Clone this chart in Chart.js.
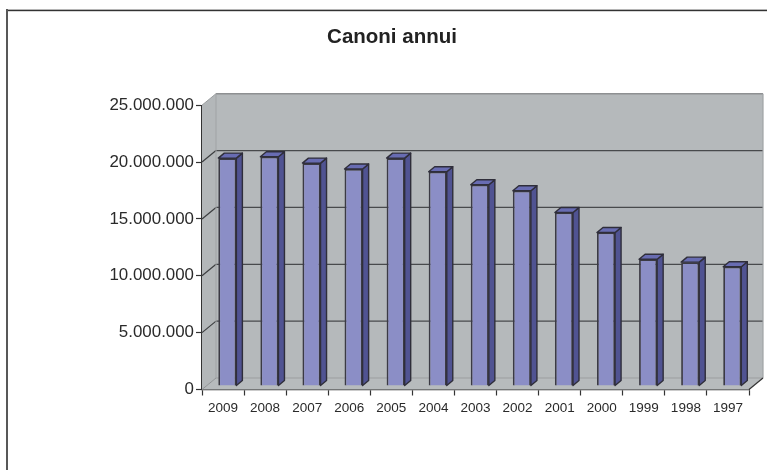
<!DOCTYPE html>
<html>
<head>
<meta charset="utf-8">
<title>Canoni annui</title>
<script src="https://cdn.jsdelivr.net/npm/chart.js@4.4.2/dist/chart.umd.js"></script>
<style>
  html, body { margin: 0; padding: 0; background: #fff; overflow: hidden; }
  canvas { display: block; }
</style>
</head>
<body>
<canvas id="chart" width="767" height="470"></canvas>
<script>
const years = ['2009', '2008', '2007', '2006', '2005', '2004', '2003', '2002', '2001', '2000', '1999', '1998', '1997'];
const canoni = [20040000, 20160000, 19600000, 19080000, 20040000, 18840000, 17700000, 17170000, 15260000, 13500000, 11150000, 10890000, 10480000];

const FONT = '"Liberation Sans", Arial, sans-serif';
const WALL_DX = 14;
const WALL_DY = -11.5;
const BAR_DX = 4.3;
const BAR_DY = -3.5;
const FACE_DX = 6;
const FACE_DY = -5;

function poly(ctx, points, fill, stroke, lineWidth) {
  ctx.beginPath();
  points.forEach((p, i) => i ? ctx.lineTo(p[0], p[1]) : ctx.moveTo(p[0], p[1]));
  ctx.closePath();
  if (fill) {
    ctx.fillStyle = fill;
    ctx.fill();
  }
  if (stroke) {
    ctx.strokeStyle = stroke;
    ctx.lineWidth = lineWidth;
    ctx.stroke();
  }
}

function line(ctx, x1, y1, x2, y2, color, width) {
  ctx.beginPath();
  ctx.moveTo(x1, y1);
  ctx.lineTo(x2, y2);
  ctx.strokeStyle = color;
  ctx.lineWidth = width;
  ctx.stroke();
}

// outer frame, only the top and left edges show in the picture
const framePlugin = {
  id: 'frame',
  beforeDraw(chart) {
    const ctx = chart.ctx;
    ctx.save();
    ctx.fillStyle = '#fff';
    ctx.fillRect(0, 0, chart.width, chart.height);
    ctx.fillStyle = '#b5b5b5';
    ctx.fillRect(6, 9, chart.width - 6, 1);
    ctx.fillStyle = '#333';
    ctx.fillRect(6, 10, chart.width - 6, 1.2);
    ctx.fillStyle = '#585858';
    ctx.fillRect(6, 9, 2, chart.height - 9);
    ctx.restore();
  }
};

// walls and floor of the 3d box, grid lines follow the y scale
const boxPlugin = {
  id: 'box',
  beforeDatasetsDraw(chart) {
    const ctx = chart.ctx;
    const { left, right, top, bottom } = chart.chartArea;
    const y = chart.scales.y;
    ctx.save();
    poly(ctx, [[left, top], [left + WALL_DX, top + WALL_DY], [left + WALL_DX, bottom + WALL_DY], [left, bottom]], '#b3b7b9');
    poly(ctx, [[left + WALL_DX, top + WALL_DY], [right + WALL_DX, top + WALL_DY], [right + WALL_DX, bottom + WALL_DY], [left + WALL_DX, bottom + WALL_DY]], '#b5b9bb');
    poly(ctx, [[left, bottom], [left + WALL_DX, bottom + WALL_DY], [right + WALL_DX, bottom + WALL_DY], [right, bottom]], '#b7bbbd');

    y.ticks.forEach((tick) => {
      const py = y.getPixelForValue(tick.value);
      if (tick.value === 0 || tick.value === y.max) {
        return;
      }
      line(ctx, left, py, left + WALL_DX, py + WALL_DY, '#3c3e40', 1.2);
      line(ctx, left + WALL_DX, py + WALL_DY, right + WALL_DX, py + WALL_DY, '#484a4c', 1.2);
    });

    line(ctx, left, top, left + WALL_DX, top + WALL_DY, '#9a9d9f', 1);
    line(ctx, left + WALL_DX, top + WALL_DY, right + WALL_DX, top + WALL_DY, '#8e9092', 1.6);
    line(ctx, right + WALL_DX, top + WALL_DY, right + WALL_DX, bottom + WALL_DY, '#a0a3a5', 1.2);
    line(ctx, left + WALL_DX, top + WALL_DY, left + WALL_DX, bottom + WALL_DY, '#a0a3a5', 1);
    line(ctx, left + WALL_DX, bottom + WALL_DY, right + WALL_DX, bottom + WALL_DY, '#9b9ea0', 1.2);
    line(ctx, left, bottom, left + WALL_DX, bottom + WALL_DY, '#8f9294', 1);
    line(ctx, right, bottom, right + WALL_DX, bottom + WALL_DY, '#333', 1.2);
    ctx.restore();

    // bars stand in the middle of the floor depth
    ctx.save();
    ctx.translate(BAR_DX, BAR_DY);
  },
  afterDatasetsDraw(chart) {
    const ctx = chart.ctx;
    chart.getDatasetMeta(0).data.forEach((bar) => {
      const x0 = bar.x - bar.width / 2;
      const x1 = bar.x + bar.width / 2;
      const side = [[x1, bar.y], [x1 + FACE_DX, bar.y + FACE_DY], [x1 + FACE_DX, bar.base + FACE_DY], [x1, bar.base]];
      const cap = [[x0, bar.y], [x0 + FACE_DX, bar.y + FACE_DY], [x1 + FACE_DX, bar.y + FACE_DY], [x1, bar.y]];
      ctx.lineJoin = 'round';
      poly(ctx, side, '#505392', '#2f2e3a', 1.4);
      poly(ctx, cap, '#686cb2', '#2f2e3a', 1.4);
    });
    ctx.restore();
  }
};

new Chart(document.getElementById('chart'), {
  type: 'bar',
  data: {
    labels: years,
    datasets: [{
      data: canoni,
      backgroundColor: '#8b8ec6',
      borderColor: '#3b3a44',
      borderWidth: 1.8,
      barPercentage: 0.43,
      categoryPercentage: 1,
      clip: false
    }]
  },
  plugins: [framePlugin, boxPlugin],
  options: {
    responsive: false,
    animation: false,
    layout: {
      padding: { left: 35, right: 18, top: 0, bottom: 0 }
    },
    plugins: {
      legend: { display: false },
      tooltip: { enabled: false },
      title: {
        display: true,
        text: 'Canoni annui',
        color: '#222',
        font: { family: FONT, size: 20.5, weight: 'bold' },
        padding: { top: 24.7, bottom: 55.9 }
      }
    },
    scales: {
      x: {
        afterFit(scale) { scale.height = 80.5; },
        grid: { drawOnChartArea: false, tickLength: 6, tickColor: '#333', tickWidth: 1.2 },
        border: { color: '#333', width: 1.3 },
        ticks: {
          color: '#2a2a2a',
          padding: 5,
          maxRotation: 0,
          autoSkip: false,
          font: { family: FONT, size: 13.5 }
        }
      },
      y: {
        min: 0,
        max: 25000000,
        afterFit(scale) { scale.width = 167; },
        grid: { drawOnChartArea: false, tickLength: 6, tickColor: '#333', tickWidth: 1.2 },
        border: { color: '#333', width: 1.3 },
        ticks: {
          color: '#2a2a2a',
          padding: 2,
          stepSize: 5000000,
          font: { family: FONT, size: 16.9 },
          callback: (value) => String(value).replace(/\B(?=(\d{3})+$)/g, '.')
        }
      }
    }
  }
});
</script>
</body>
</html>
